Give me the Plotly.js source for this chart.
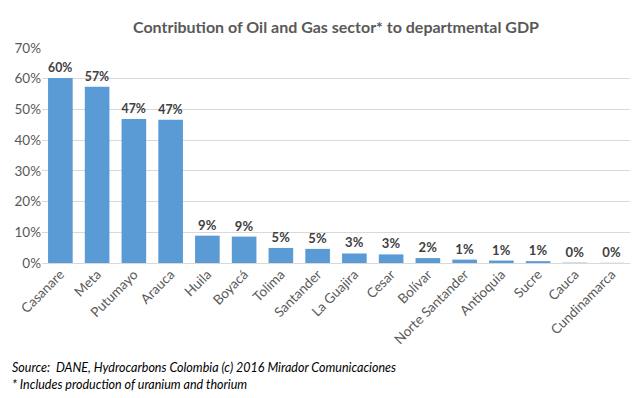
<!DOCTYPE html>
<html>
<head>
<meta charset="utf-8">
<script src="https://cdn.plot.ly/plotly-3.0.1.min.js"></script>
<style>html,body{margin:0;padding:0;background:#fff;}#chart{width:643px;height:398px;}</style>
</head>
<body>
<div id="chart"></div>
<script>
var departments = ["Casanare","Meta","Putumayo","Arauca","Huila","Boyacá","Tolima","Santander","La Guajira","Cesar","Bolívar","Norte Santander","Antioquia","Sucre","Cauca","Cundinamarca"];
var sharePct = [60.2, 57.4, 46.9, 46.6, 8.9, 8.6, 4.9, 4.6, 3.1, 2.8, 1.6, 1.1, 0.8, 0.6, 0.1, 0.05];
var yTicks = [0,10,20,30,40,50,60,70];
var yTickLabels = ["0%","10%","20%","30%","40%","50%","60%","70%"];
var titleText = "Contribution of Oil and Gas sector* to departmental GDP";
var sourceLines = ["Source:  DANE, Hydrocarbons Colombia (c) 2016 Mirador Comunicaciones", "* Includes production of uranium and thorium"];

var font = "Lato, 'Open Sans', 'Liberation Sans', sans-serif";
var data = [{
  type: "bar",
  x: departments,
  y: sharePct,
  marker: {color: "#5B9BD5"},
  texttemplate: "%{y:.0f}%",
  textposition: "outside",
  cliponaxis: false,
  textfont: {family: font, size: 13, color: "#404040", weight: "bold"},
  hoverinfo: "x+y"
}];
var layout = {
  width: 643, height: 398,
  margin: {l: 42, r: 13, t: 48, b: 135},
  paper_bgcolor: "#fff", plot_bgcolor: "#fff",
  bargap: 0.33,
  title: {text: "<b>" + titleText + "</b>", font: {family: font, size: 16, color: "#595959"},
          x: 0.5, xref: "paper", y: 1 - 27/398, yref: "container", yanchor: "middle"},
  xaxis: {tickangle: -45, tickfont: {family: font, size: 13.5, color: "#595959"}, showline: false, ticks: "", fixedrange: true},
  yaxis: {range: [0, 70], tickmode: "array", tickvals: yTicks, ticktext: yTickLabels, gridcolor: "#d9d9d9", zerolinecolor: "#d9d9d9",
          tickfont: {family: font, size: 13.5, color: "#595959"}, showline: false, fixedrange: true},
  showlegend: false,
  annotations: sourceLines.map(function(t, i){
    return {text: "<i>" + t + "</i>", xref: "paper", yref: "paper", x: (10-42)/588, y: -(104 + i*17)/215,
            xanchor: "left", yanchor: "middle", showarrow: false, font: {family: font, size: 12.5, color: "#000"}};
  })
};
Plotly.newPlot("chart", data, layout, {staticPlot: true});
</script>
</body>
</html>
